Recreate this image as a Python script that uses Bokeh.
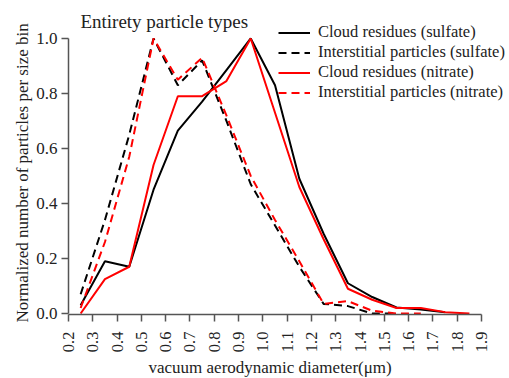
import math

from bokeh.plotting import figure
from bokeh.models import (Range1d, FixedTicker, PrintfTickFormatter, Legend,
                          LegendItem, Label, Title)
from bokeh.embed import file_html
from bokeh.resources import INLINE

# Size-bin centres (vacuum aerodynamic diameter, µm)
diameter = [0.25, 0.35, 0.45, 0.55, 0.65, 0.75, 0.85, 0.95, 1.05,
            1.15, 1.25, 1.35, 1.45, 1.55, 1.65, 1.75, 1.85]

# Normalized number of particles per size bin
cloud_sulfate = [0.03, 0.19, 0.17, 0.45, 0.665, 0.77, 0.885, 1.0, 0.83,
                 0.49, 0.29, 0.11, 0.06, 0.022, 0.015, 0.005]
interstitial_sulfate = [0.07, 0.34, 0.65, 1.0, 0.83, 0.92, 0.70, 0.47, 0.32,
                        0.17, 0.035, 0.027, 0.0, 0.0]
cloud_nitrate = [0.0, 0.125, 0.17, 0.54, 0.79, 0.79, 0.845, 1.0, 0.73,
                 0.46, 0.27, 0.09, 0.05, 0.02, 0.02, 0.005, 0.0]
interstitial_nitrate = [0.02, 0.26, 0.57, 1.0, 0.85, 0.93, 0.72, 0.50, 0.34,
                        0.19, 0.035, 0.045, 0.01, 0.0, 0.0]

x_ticks = [round(0.2 + 0.1 * i, 1) for i in range(18)]
y_ticks = [0.0, 0.2, 0.4, 0.6, 0.8, 1.0]

SERIF = "Liberation Serif"
RED = "#ff0000"
BLACK = "#000000"
TEXT = "#222222"
AXIS = "#555555"

# The frame reaches the top and right edges of the canvas so that the title
# and legend (which sit above / beside the axes) are not clipped; the axes
# themselves are limited with bounds.
p = figure(width=509, height=378, output_backend="svg", toolbar_location=None,
           x_range=Range1d(0.2, 2.015), y_range=Range1d(-0.0036, 1.138),
           min_border_left=68, min_border_right=0,
           min_border_top=0, min_border_bottom=64)

p.outline_line_color = None
p.xgrid.visible = False
p.ygrid.visible = False
p.background_fill_color = "white"
p.border_fill_color = "white"

for ax in (p.xaxis[0], p.yaxis[0]):
    ax.axis_line_color = AXIS
    ax.axis_line_width = 1.5
    ax.major_tick_line_color = AXIS
    ax.major_tick_line_width = 1.5
    ax.major_tick_out = 7
    ax.major_tick_in = 0
    ax.minor_tick_out = 0
    ax.minor_tick_in = 0
    ax.major_label_text_font = SERIF
    ax.major_label_text_color = TEXT
    ax.formatter = PrintfTickFormatter(format="%.1f")

p.xaxis.ticker = FixedTicker(ticks=x_ticks)
p.yaxis.ticker = FixedTicker(ticks=y_ticks)
p.xaxis.bounds = (0.2, 1.9)
p.yaxis.bounds = (0.0, 1.0)
p.xaxis.major_label_text_font_size = "16.5px"
p.yaxis.major_label_text_font_size = "17px"
p.xaxis.major_label_orientation = math.pi / 2
p.xaxis.major_label_standoff = 10
p.yaxis.major_label_standoff = 4

# Axis titles, positioned along the bounded axes
y_title = Title(text="Normalized number of particles per size bin",
                align="left", offset=-8, standoff=4, vertical_align="bottom",
                text_font=SERIF, text_font_size="17px",
                text_font_style="normal", text_color=TEXT)
p.add_layout(y_title, "left")
x_title = Title(text="vacuum aerodynamic diameter(\u03bcm)",
                align="left", offset=80, standoff=0, vertical_align="bottom",
                text_font=SERIF, text_font_size="17px",
                text_font_style="normal", text_color=TEXT)
p.add_layout(x_title, "below")

r1 = p.line(diameter[:len(cloud_sulfate)], cloud_sulfate,
            line_color=BLACK, line_width=2)
r2 = p.line(diameter[:len(interstitial_sulfate)], interstitial_sulfate,
            line_color=BLACK, line_width=2, line_dash="8 5")
r3 = p.line(diameter[:len(cloud_nitrate)], cloud_nitrate,
            line_color=RED, line_width=2)
r4 = p.line(diameter[:len(interstitial_nitrate)], interstitial_nitrate,
            line_color=RED, line_width=2, line_dash="8 5")

legend = Legend(items=[
    LegendItem(label="Cloud residues (sulfate)", renderers=[r1]),
    LegendItem(label="Interstitial particles (sulfate)", renderers=[r2]),
    LegendItem(label="Cloud residues (nitrate)", renderers=[r3]),
    LegendItem(label="Interstitial particles (nitrate)", renderers=[r4]),
], location=(210, 212))
legend.label_text_font = SERIF
legend.label_text_font_size = "16.5px"
legend.label_text_color = TEXT
legend.glyph_width = 32
legend.glyph_height = 19
legend.label_height = 19
legend.label_standoff = 8
legend.spacing = -2
legend.padding = 0
legend.margin = 0
legend.border_line_color = None
legend.background_fill_alpha = 0
p.add_layout(legend, "center")

title = Label(x=0.249, y=1.06, text="Entirety particle types",
              text_font=SERIF, text_font_size="19px", text_color=TEXT,
              text_baseline="middle", text_align="left")
p.add_layout(title)

open("out.html", "w").write(file_html(p, INLINE))
